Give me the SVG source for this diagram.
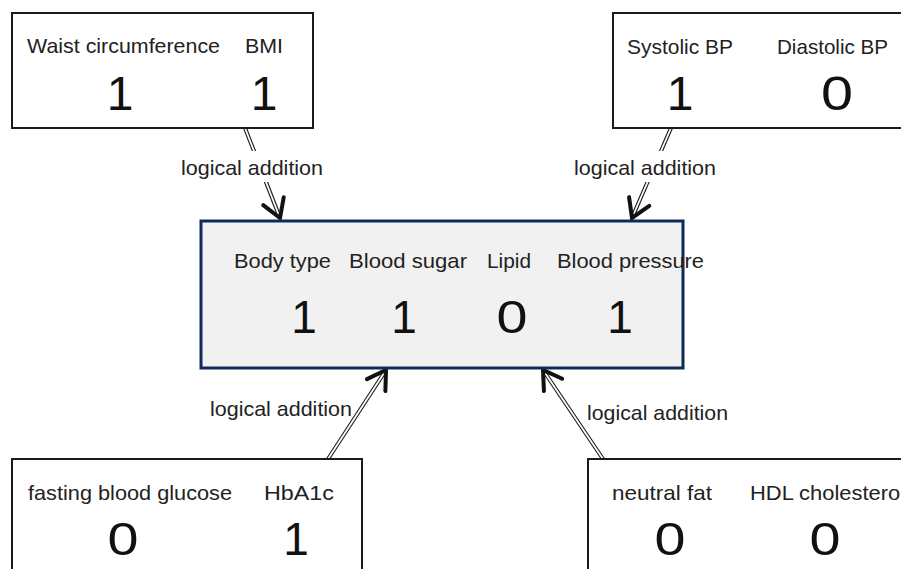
<svg xmlns="http://www.w3.org/2000/svg" width="901" height="569" viewBox="0 0 901 569">
<style>
.box{fill:#ffffff;stroke:#1a1a1a;stroke-width:2}
.main{fill:#f1f1f1;stroke:#0f2a5a;stroke-width:3}
.lbl{font-family:"Liberation Sans",Arial,sans-serif;font-size:21px;fill:#222}
.num{font-family:"Liberation Sans",Arial,sans-serif;font-size:48px;fill:#111;text-anchor:middle}
.numc{font-family:"Liberation Sans",Arial,sans-serif;font-size:46px;fill:#111;text-anchor:middle}
.outer{stroke:#1a1a1a;stroke-width:4;fill:none}
.inner{stroke:#ffffff;stroke-width:1.8;fill:none;marker-end:url(#chev)}
.bg{fill:#ffffff}
</style>
<defs>
<marker id="chev" markerUnits="userSpaceOnUse" viewBox="-25 -15 30 30" markerWidth="30" markerHeight="30" refX="0" refY="0" orient="auto">
<path d="M-18,-11 L0,0 L-18,11" fill="none" stroke="#111" stroke-width="4" stroke-linejoin="miter" stroke-linecap="round"/>
</marker>
</defs>
<rect width="901" height="569" fill="#ffffff"/>

<g id="connectors">
<line class="outer" x1="245" y1="128" x2="280" y2="218"/>
<line class="inner" x1="245" y1="128" x2="280" y2="218"/>
<line class="outer" x1="671" y1="128" x2="632" y2="218"/>
<line class="inner" x1="671" y1="128" x2="632" y2="218"/>
<line class="outer" x1="328" y1="459" x2="386" y2="370"/>
<line class="inner" x1="328" y1="459" x2="386" y2="370"/>
<line class="outer" x1="603" y1="459" x2="543" y2="370"/>
<line class="inner" x1="603" y1="459" x2="543" y2="370"/>
<rect class="bg" x="180" y="151" width="145" height="31"/>
<text class="lbl" x="181" y="175" textLength="142" lengthAdjust="spacingAndGlyphs">logical addition</text>
<rect class="bg" x="572" y="151" width="146" height="31"/>
<text class="lbl" x="574" y="175" textLength="142" lengthAdjust="spacingAndGlyphs">logical addition</text>
<text class="lbl" x="210" y="416" textLength="142" lengthAdjust="spacingAndGlyphs">logical addition</text>
<text class="lbl" x="587" y="420" textLength="141" lengthAdjust="spacingAndGlyphs">logical addition</text>
</g>

<g id="body-measures">
<rect class="box" x="12" y="13" width="301" height="115"/>
<text class="lbl" x="27" y="53" textLength="193" lengthAdjust="spacingAndGlyphs">Waist circumference</text>
<text class="lbl" x="245" y="53" textLength="38" lengthAdjust="spacingAndGlyphs">BMI</text>
<text class="num" x="120" y="110">1</text>
<text class="num" x="264" y="110">1</text>
</g>

<g id="blood-pressure-measures">
<rect class="box" x="613" y="13" width="300" height="115"/>
<text class="lbl" x="627" y="54" textLength="106" lengthAdjust="spacingAndGlyphs">Systolic BP</text>
<text class="lbl" x="777" y="54" textLength="111" lengthAdjust="spacingAndGlyphs">Diastolic BP</text>
<text class="num" x="680" y="110">1</text>
<text class="num" x="837" y="110" textLength="32" lengthAdjust="spacingAndGlyphs">0</text>
</g>

<g id="summary">
<rect class="main" x="201" y="221" width="482" height="147"/>
<text class="lbl" x="234" y="268" textLength="97" lengthAdjust="spacingAndGlyphs">Body type</text>
<text class="lbl" x="349" y="268" textLength="118" lengthAdjust="spacingAndGlyphs">Blood sugar</text>
<text class="lbl" x="487" y="268" textLength="44" lengthAdjust="spacingAndGlyphs">Lipid</text>
<text class="lbl" x="557" y="268" textLength="147" lengthAdjust="spacingAndGlyphs">Blood pressure</text>
<text class="numc" x="304" y="333">1</text>
<text class="numc" x="404" y="333">1</text>
<text class="numc" x="512" y="333" textLength="31" lengthAdjust="spacingAndGlyphs">0</text>
<text class="numc" x="620" y="333">1</text>
</g>

<g id="blood-sugar-measures">
<rect class="box" x="12" y="459" width="350" height="130"/>
<text class="lbl" x="28" y="500" textLength="204" lengthAdjust="spacingAndGlyphs">fasting blood glucose</text>
<text class="lbl" x="264" y="500" textLength="70" lengthAdjust="spacingAndGlyphs">HbA1c</text>
<text class="numc" x="123" y="555" textLength="31" lengthAdjust="spacingAndGlyphs">0</text>
<text class="numc" x="296" y="555">1</text>
</g>

<g id="lipid-measures">
<rect class="box" x="588" y="459" width="330" height="130"/>
<text class="lbl" x="612" y="500" textLength="100" lengthAdjust="spacingAndGlyphs">neutral fat</text>
<text class="lbl" x="750" y="500" textLength="155" lengthAdjust="spacingAndGlyphs">HDL cholesterol</text>
<text class="numc" x="670" y="555" textLength="31" lengthAdjust="spacingAndGlyphs">0</text>
<text class="numc" x="825" y="555" textLength="31" lengthAdjust="spacingAndGlyphs">0</text>
</g>
</svg>
